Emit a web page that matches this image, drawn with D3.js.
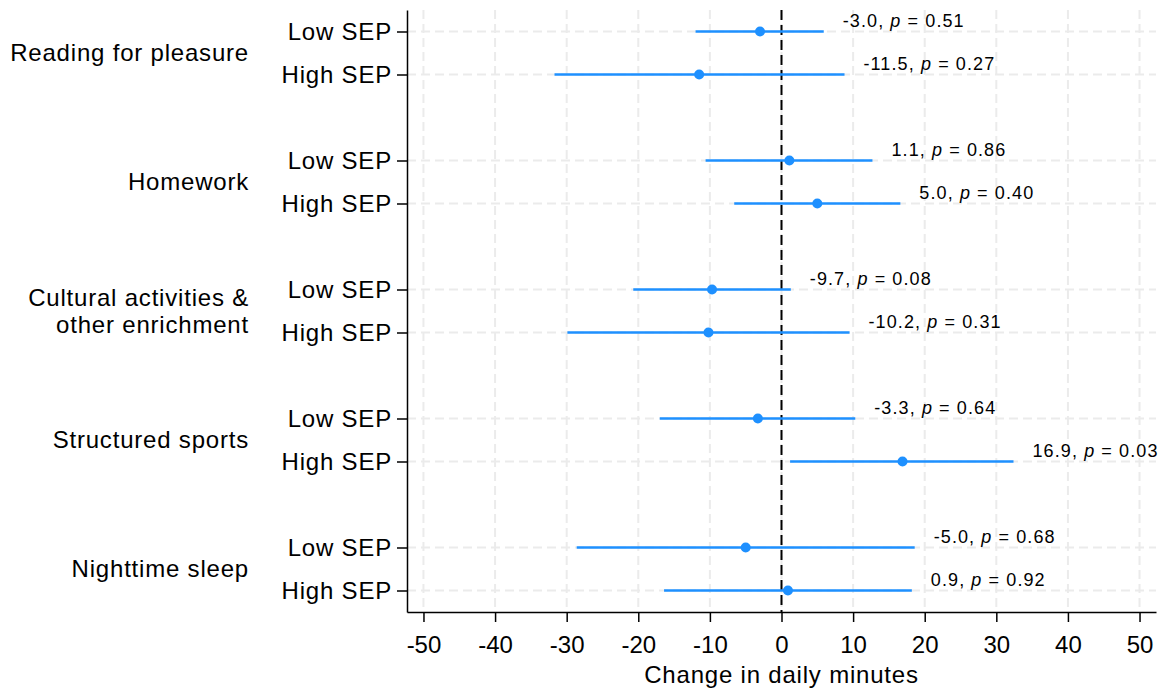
<!DOCTYPE html>
<html>
<head>
<meta charset="utf-8">
<script src="https://cdn.jsdelivr.net/npm/d3@7"></script>
<style>
  body { margin: 0; background: #fff; }
  svg { font-family: "Liberation Sans", Arial, sans-serif; }
  .grid line { stroke: #ebebeb; stroke-width: 2; stroke-dasharray: 9,5; }
  .axis path, .axis line { stroke: #000; stroke-width: 1.5; }
  .axis text { font-size: 24px; fill: #000; }
  .yAxis text { letter-spacing: 0.8px; }
  .ci { stroke: #1e90ff; stroke-width: 2.5; }
  .est { fill: #1e90ff; }
  .lab { font-size: 18px; fill: #000; letter-spacing: 1.1px; }
  .group { font-size: 24px; fill: #000; letter-spacing: 0.8px; }
</style>
</head>
<body>
<div class="wrapper"></div>
<script>
// chart size
var ultimatew = 1165,
  ultimateh = 691;

// data
var groups = [
  "Reading for pleasure",
  "Homework",
  "Cultural activities &|other enrichment",
  "Structured sports",
  "Nighttime sleep"
];
var sepLevels = ["Low SEP", "High SEP"];
var estimates = [-3.0, -11.5, 1.1, 5.0, -9.7, -10.2, -3.3, 16.9, -5.0, 0.9];
var lowerCI = [-12.0, -31.7, -10.6, -6.6, -20.7, -29.9, -17.0, 1.2, -28.6, -16.4];
var upperCI = [5.9, 8.8, 12.7, 16.6, 1.3, 9.5, 10.3, 32.4, 18.6, 18.2];
var pValues = ["0.51", "0.27", "0.86", "0.40", "0.08", "0.31", "0.64", "0.03", "0.68", "0.92"];
var xTicks = [-50, -40, -30, -20, -10, 0, 10, 20, 30, 40, 50];

// rows: each group gets two rows plus a blank one
var rows = [];
groups.forEach(function(g, gi) {
  sepLevels.forEach(function(s, si) {
    var k = gi * 2 + si;
    rows.push({
      group: g,
      sep: s,
      pos: gi * 3 + si,
      est: estimates[k],
      lo: lowerCI[k],
      hi: upperCI[k],
      p: pValues[k]
    });
  });
});

var svg = d3
  .select(".wrapper")
  .append("svg")
  .attr("width", ultimatew)
  .attr("height", ultimateh);

var x = d3.scaleLinear().domain([-52.3, 52.3]).range([407, 1156]);
var y = d3.scaleLinear().domain([-0.5, 13.5]).range([10, 612]);

// grid lines
var grid = svg.append("g").attr("class", "grid");
grid
  .selectAll(".vg")
  .data(xTicks)
  .enter()
  .append("line")
  .attr("x1", function(d) { return x(d); })
  .attr("x2", function(d) { return x(d); })
  .attr("y1", y.range()[0])
  .attr("y2", y.range()[1]);
grid
  .selectAll(".hg")
  .data(rows)
  .enter()
  .append("line")
  .attr("x1", x.range()[0])
  .attr("x2", x.range()[1])
  .attr("y1", function(d) { return y(d.pos); })
  .attr("y2", function(d) { return y(d.pos); });

// zero reference line
svg
  .append("line")
  .attr("x1", x(0))
  .attr("x2", x(0))
  .attr("y1", y.range()[0])
  .attr("y2", y.range()[1])
  .attr("stroke", "#000")
  .attr("stroke-width", 2)
  .attr("stroke-dasharray", "10,5");

// axes
svg
  .append("g")
  .attr("class", "axis xAxis")
  .attr("transform", "translate(0," + y.range()[1] + ")")
  .call(
    d3
      .axisBottom(x)
      .tickValues(xTicks)
      .tickFormat(function(d) { return String(d); })
      .tickSize(10)
      .tickSizeOuter(0)
      .tickPadding(8)
  )
  .selectAll("text")
  .attr("dy", "0.95em");

svg
  .append("g")
  .attr("class", "axis yAxis")
  .attr("transform", "translate(" + x.range()[0] + ",0)")
  .call(
    d3
      .axisLeft(y)
      .tickValues(rows.map(function(d) { return d.pos; }))
      .tickFormat(function(d, i) { return rows[i].sep; })
      .tickSize(10)
      .tickSizeOuter(0)
      .tickPadding(5)
  );

// group labels
groups.forEach(function(g, gi) {
  var lines = g.split("|");
  var mid = y(gi * 3 + 0.5);
  var t = svg
    .append("text")
    .attr("class", "group")
    .attr("text-anchor", "end")
    .attr("x", 248)
    .attr("y", mid - (lines.length - 1) * 13.5);
  lines.forEach(function(l, li) {
    t.append("tspan")
      .attr("x", 249)
      .attr("dy", li == 0 ? "0.35em" : 27)
      .text(l);
  });
});

// x axis title
svg
  .append("text")
  .attr("class", "group")
  .attr("text-anchor", "middle")
  .attr("x", x(0))
  .attr("y", 683)
  .text("Change in daily minutes");

// confidence intervals
svg
  .selectAll(".ci")
  .data(rows)
  .enter()
  .append("line")
  .attr("class", "ci")
  .attr("x1", function(d) { return x(d.lo); })
  .attr("x2", function(d) { return x(d.hi); })
  .attr("y1", function(d) { return y(d.pos); })
  .attr("y2", function(d) { return y(d.pos); });

// point estimates
svg
  .selectAll(".est")
  .data(rows)
  .enter()
  .append("circle")
  .attr("class", "est")
  .attr("cx", function(d) { return x(d.est); })
  .attr("cy", function(d) { return y(d.pos); })
  .attr("r", 5);

// estimate labels
var labs = svg
  .selectAll(".lab")
  .data(rows)
  .enter()
  .append("text")
  .attr("class", "lab")
  .attr("x", function(d) { return x(d.hi) + 19; })
  .attr("y", function(d) { return y(d.pos) - 5; });
labs.append("tspan").text(function(d) { return d.est.toFixed(1) + ", "; });
labs.append("tspan").attr("font-style", "italic").text("p");
labs.append("tspan").text(function(d) { return " = " + d.p; });
</script>
</body>
</html>
